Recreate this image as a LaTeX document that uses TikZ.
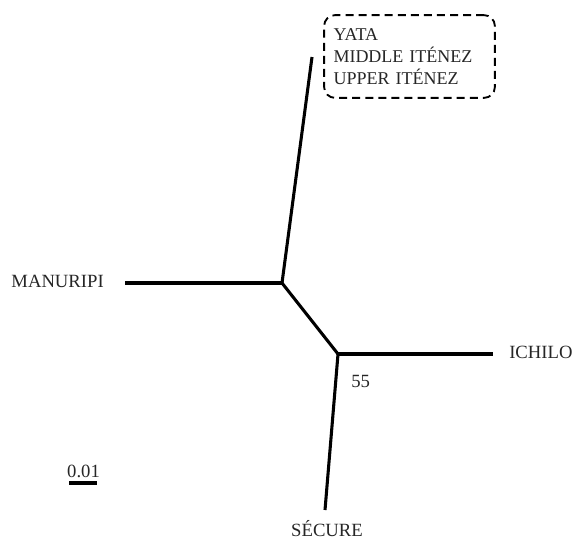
\documentclass[tikz,border=0pt]{standalone}
\usepackage{fontspec}
\setmainfont{Liberation Serif}
\begin{document}
\begin{tikzpicture}[x=0.75pt,y=-0.75pt,
  branch/.style={line width=2.3pt, line cap=butt, line join=round},
  lbl/.style={inner sep=0pt, font=\fontsize{14}{17}\selectfont, text=black!85},
  groupbox/.style={draw, line width=1.4pt, dash pattern=on 6pt off 3.8pt, rounded corners=8pt,
    minimum width=128pt, minimum height=62pt, text width=114pt, inner xsep=7pt, align=left,
    font=\fontsize{13.5}{16.5}\selectfont, text=black!85}]
\useasboundingbox (0,0) rectangle (574,539);
% internal nodes and tips
\coordinate (n1) at (282,283);
\coordinate (n2) at (338,354);
\coordinate (top) at (312,57);
\coordinate (man) at (125,283);
\coordinate (ich) at (493,354);
\coordinate (sec) at (325,510);
\coordinate (sb1) at (69,483);
\coordinate (sb2) at (97,483);
% branches
\draw[branch] (top) -- (n1);
\draw[branch] (man) -- (n1);
\draw[branch] (n1) -- (n2);
\draw[branch] (n2) -- (ich);
\draw[branch] (n2) -- (sec);
\draw[branch] (sb1) -- (sb2);
% labels
\node[groupbox] (grp) at (409.5,56.5) {YATA\\MIDDLE ITÉNEZ\\UPPER ITÉNEZ};
\node[lbl, anchor=base east] (lman) at (104,287) {MANURIPI};
\node[lbl, anchor=base west] (lich) at (509,358) {ICHILO};
\node[lbl, anchor=base] (lsec) at (327,536) {SÉCURE};
\node[lbl, anchor=base west] (lboot) at (351,387) {55};
\node[lbl, anchor=base] (lsb) at (83.5,477) {0.01};
\end{tikzpicture}
\end{document}
